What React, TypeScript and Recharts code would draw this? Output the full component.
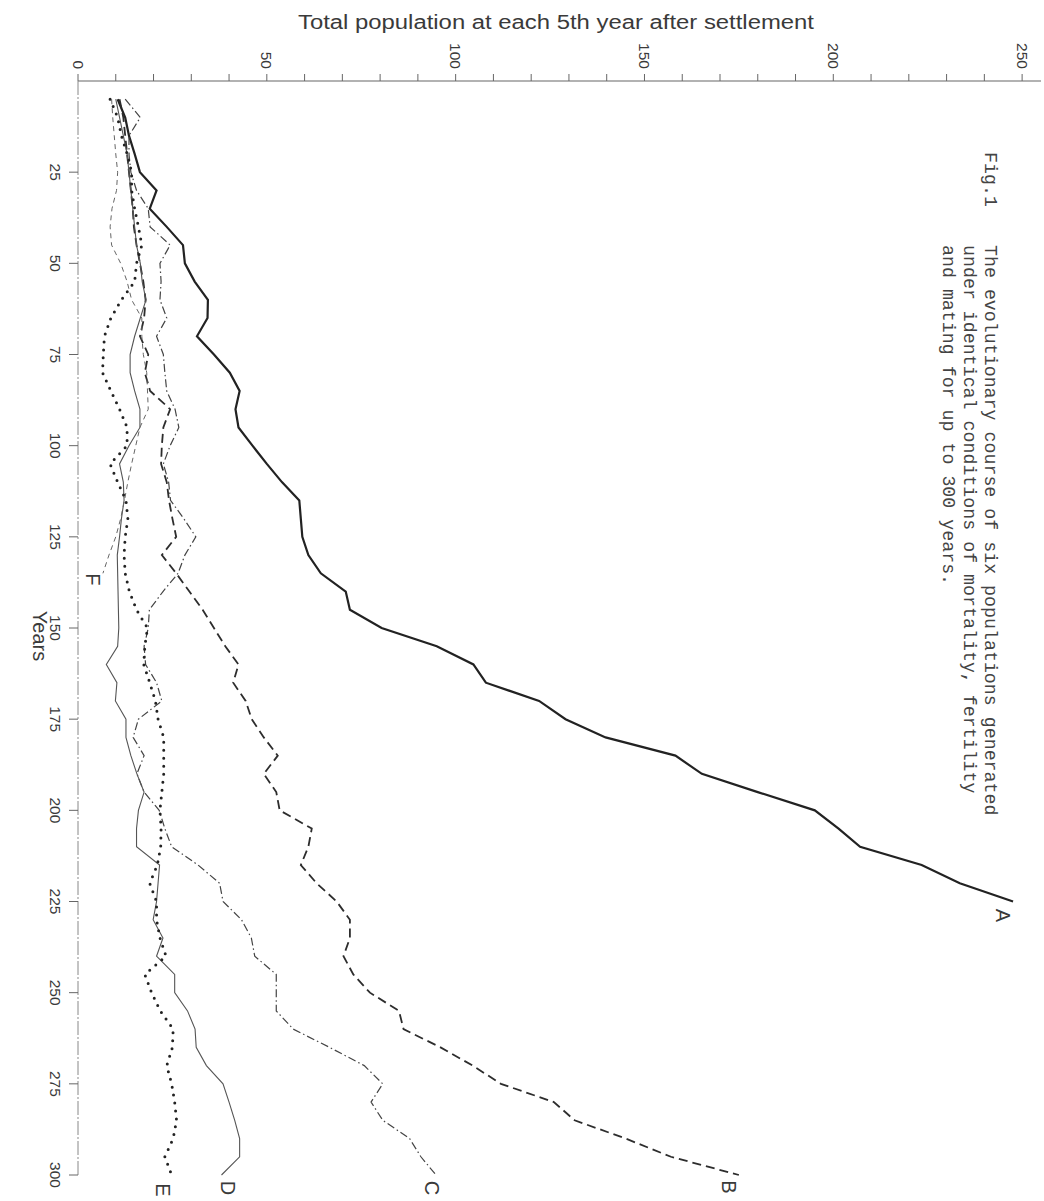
import React from 'react';
import { LineChart, Line, XAxis, YAxis } from 'recharts';

// Years after settlement (every 5th year)
const years = [
  5, 10, 15, 20, 25, 30, 35, 40, 45, 50, 55, 60, 65, 70, 75, 80, 85, 90, 95, 100,
  105, 110, 115, 120, 125, 130, 135, 140, 145, 150, 155, 160, 165, 170, 175, 180, 185, 190, 195, 200,
  205, 210, 215, 220, 225, 230, 235, 240, 245, 250, 255, 260, 265, 270, 275, 280, 285, 290, 295, 300,
];

const popA = [
  10.5, 12.5, 13.5, 15, 16.4, 20.8, 19, 23.5, 27.8, 28.3, 30.9, 34.4, 34.3, 31.5, 36, 40.2, 42.8, 41.7, 42.5, 46.2,
  50, 54, 58.6, 59, 59.4, 61, 64.3, 70.9, 72, 80.4, 95, 104.7, 108, 122.1, 129.1, 139.7, 158.2, 165.2, 180, 195.1,
  201.4, 207.1, 223.4, 233.5, 247.6, null, null, null, null, null, null, null, null, null, null, null, null, null, null, null,
];
const popB = [
  11, 12, 12.5, 13, 13.5, 14, 14.5, 14.8, 15.5, 16.4, 17.3, 17.9, 17.5, 16.4, 18.6, 17.7, 19.1, 24.4, 22.6, 22.2,
  22, 23.5, 24.1, 25, 26, 22.2, 26, 29.5, 33, 36, 39, 42.5, 41.1, 44.4, 46, 49.2, 52.9, 49.2, 52.5, 53.4,
  61.9, 61, 59, 63.2, 68.5, 72, 72, 70.3, 72.9, 77.3, 85, 86.2, 96, 104.5, 112, 126, 131.5, 145, 157, 175,
];
const popC = [
  12.5, 16.5, 13.5, 13.5, 14, 15.5, 18.6, 19.1, 24.4, 21.7, 22, 21.7, 23.5, 20.8, 22.6, 23, 23.5, 25.7, 26.7, 24.4,
  22.6, 24, 24.5, 28, 31.2, 28.3, 26.5, 22.5, 18.9, 18.6, 17.5, 17.9, 20.8, 22.2, 16, 14.6, 17.5, 15.6, 17.5, 21.5,
  23, 24.8, 31.8, 37.5, 38.4, 43.3, 45.9, 46.8, 52.5, 52.5, 52.5, 57, 66.6, 75.8, 80.7, 77.6, 80.7, 87.8, 90.8, 94.8,
];
const popD = [
  10, 11, 12, 13, 13.5, 14, 14.5, 15, 15.5, 16.5, 17, 18, 16.5, 15, 13.8, 13.8, 15, 16.4, 16.4, 13.5,
  11, 12, 12.2, 11.5, 11, 10.4, 10.5, 10.6, 10.7, 10.8, 10.5, 7.5, 10.3, 9.9, 12.7, 12.7, 14, 15.6, 17.5, 16,
  15.5, 15.5, 21.6, 21.2, 20.8, 19.9, 22.5, 20.8, 25.6, 25.6, 29, 31, 31.3, 34, 38.4, 40, 41.5, 42.8, 42.8, 38,
];
const popE = [
  8.5, 10.5, 11.5, 13, 14.2, 14.2, 15, 16, 16.9, 15.5, 15, 11.5, 8.7, 7, 6.7, 6.5, 8.7, 11, 13, 13,
  8.5, 10.5, 12.7, 13.2, 12.5, 12.2, 12.5, 13.6, 15.5, 18.4, 17.7, 17.4, 19, 20.5, 21.2, 22.7, 22.7, 22.7, 22.2, 21.7,
  22, 21.9, 21, 19, 20.8, 20.8, 21.7, 23.3, 17.7, 19.5, 21.8, 25.2, 25, 23.5, 24.8, 25.6, 26.1, 25.2, 23, 24.8,
];
const popF = [
  8.9, 9.2, 9.6, 10, 10.5, 10.2, 9, 8.5, 8.9, 11.3, 13, 14.2, 16.9, 16.9, 17.3, 18.2, 18.4, 18.6, 16.4, 15.3,
  14.2, 13.2, 12.3, 11.3, 10, 8.2, 6.6, null, null, null, null, null, null, null, null, null, null, null, null, null,
  null, null, null, null, null, null, null, null, null, null, null, null, null, null, null, null, null, null, null, null,
];

const popTicks = [0, 10, 20, 30, 40, 50, 60, 70, 80, 90, 100, 110, 120, 130, 140, 150, 160, 170, 180, 190, 200, 210, 220, 230, 240, 250];
const yearTicks = [25, 50, 75, 100, 125, 150, 175, 200, 225, 250, 275, 300];

const titleText = 'Total population at each 5th year after settlement';
const yearsText = 'Years';
const figText = 'Fig.1';
const captionLines = [
  'The evolutionary course of six populations generated',
  'under identical conditions of mortality, fertility',
  'and mating for up to 300 years.',
];

const rows = years.map((year, i) => ({
  year,
  A: popA[i],
  B: popB[i],
  C: popC[i],
  D: popD[i],
  E: popE[i],
  F: popF[i],
}));

const lastIndex = (arr: (number | null)[]) => {
  let k = -1;
  arr.forEach((v, i) => {
    if (v !== null && v !== undefined) k = i;
  });
  return k;
};

const SANS = 'Liberation Sans, Arial, sans-serif';
const MONO = 'Liberation Mono, DejaVu Sans Mono, monospace';
const INK = '#3a3a3a';

const PopTick = (props: any) => {
  const { x, y, payload } = props;
  const v = payload.value;
  if (v % 50 !== 0) return <g />;
  return (
    <text
      x={x}
      y={y}
      transform={`rotate(90, ${x}, ${y})`}
      textAnchor="end"
      dominantBaseline="central"
      fontSize={15.5}
      fontFamily={SANS}
      fill={INK}
    >
      {v}
    </text>
  );
};

const YearTick = (props: any) => {
  const { x, y, payload } = props;
  return (
    <text
      x={x}
      y={y}
      transform={`rotate(90, ${x}, ${y})`}
      textAnchor="middle"
      dominantBaseline="central"
      fontSize={15.5}
      fontFamily={SANS}
      fill={INK}
    >
      {payload.value}
    </text>
  );
};

const makeEndLabel = (letter: string, last: number, dx: number, dy: number) => (props: any) => {
  const { x, y, index } = props;
  if (index !== last || x == null || y == null) return <g key={`l-${letter}-${index}`} />;
  const tx = x + dx;
  const ty = y + dy;
  return (
    <text
      key={`l-${letter}`}
      x={tx}
      y={ty}
      transform={`rotate(90, ${tx}, ${ty})`}
      textAnchor="middle"
      dominantBaseline="central"
      fontSize={20}
      fontFamily={SANS}
      fill={INK}
    >
      {letter}
    </text>
  );
};

export default function App() {
  const W = 1044;
  const H = 1201;
  return (
    <div style={{ position: 'absolute', left: 0, top: 0, width: W, height: H, background: '#fff' }}>
      <LineChart
        width={W}
        height={H}
        layout="vertical"
        data={rows}
        margin={{ top: 41, right: 3, bottom: 26, left: 38 }}
      >
        <XAxis
          type="number"
          orientation="top"
          domain={[0, 255]}
          ticks={popTicks}
          interval={0}
          height={40}
          tickSize={7}
          tickMargin={5}
          tick={<PopTick />}
          axisLine={{ stroke: '#666', strokeWidth: 1.2 }}
          tickLine={{ stroke: '#666', strokeWidth: 1 }}
          allowDataOverflow
        />
        <YAxis
          type="number"
          dataKey="year"
          domain={[0, 300]}
          ticks={yearTicks}
          interval={0}
          width={40}
          tickSize={9}
          tickMargin={14}
          tick={<YearTick />}
          axisLine={{ stroke: '#888', strokeWidth: 1, strokeDasharray: '14 2 2 2' }}
          tickLine={{ stroke: '#666', strokeWidth: 1 }}
        />
        <Line
          dataKey="A"
          stroke="#222"
          strokeWidth={2.2}
          dot={false}
          isAnimationActive={false}
          label={makeEndLabel('A', lastIndex(popA), -10, 14)}
        />
        <Line
          dataKey="B"
          stroke="#2d2d2d"
          strokeWidth={1.8}
          strokeDasharray="9 5"
          dot={false}
          isAnimationActive={false}
          label={makeEndLabel('B', lastIndex(popB), -10, 12)}
        />
        <Line
          dataKey="C"
          stroke="#444"
          strokeWidth={1.2}
          strokeDasharray="8 3 1.5 3"
          dot={false}
          isAnimationActive={false}
          label={makeEndLabel('C', lastIndex(popC), -4, 13)}
        />
        <Line
          dataKey="D"
          stroke="#555"
          strokeWidth={1.1}
          dot={false}
          isAnimationActive={false}
          label={makeEndLabel('D', lastIndex(popD), 6, 13)}
        />
        <Line
          dataKey="E"
          stroke="#222"
          strokeWidth={3}
          strokeDasharray="0 8"
          strokeLinecap="round"
          dot={false}
          isAnimationActive={false}
          label={makeEndLabel('E', lastIndex(popE), -9, 15)}
        />
        <Line
          dataKey="F"
          stroke="#666"
          strokeWidth={1}
          strokeDasharray="5 4"
          dot={false}
          isAnimationActive={false}
          label={makeEndLabel('F', lastIndex(popF), -10, 6)}
        />
      </LineChart>
      <svg
        width={W}
        height={H}
        style={{ position: 'absolute', left: 0, top: 0, pointerEvents: 'none' }}
      >
        <text x={556} y={29} textAnchor="middle" fontSize={20} fontFamily={SANS} fill={INK} textLength={516} lengthAdjust="spacingAndGlyphs">
          {titleText}
        </text>
        <text x={40} y={636} transform="rotate(90, 40, 636)" textAnchor="middle" dominantBaseline="central" fontSize={20} fontFamily={SANS} fill={INK}>
          {yearsText}
        </text>
        <text x={990} y={152} transform="rotate(90, 990, 152)" textAnchor="start" dominantBaseline="central" fontSize={18.3} fontFamily={MONO} fill="#444">
          {figText}
        </text>
        {captionLines.map((line, i) => {
          const cx = 990 - i * 21;
          return (
            <text key={i} x={cx} y={245} transform={`rotate(90, ${cx}, 245)`} textAnchor="start" dominantBaseline="central" fontSize={18.3} fontFamily={MONO} fill="#444">
              {line}
            </text>
          );
        })}
      </svg>
    </div>
  );
}
